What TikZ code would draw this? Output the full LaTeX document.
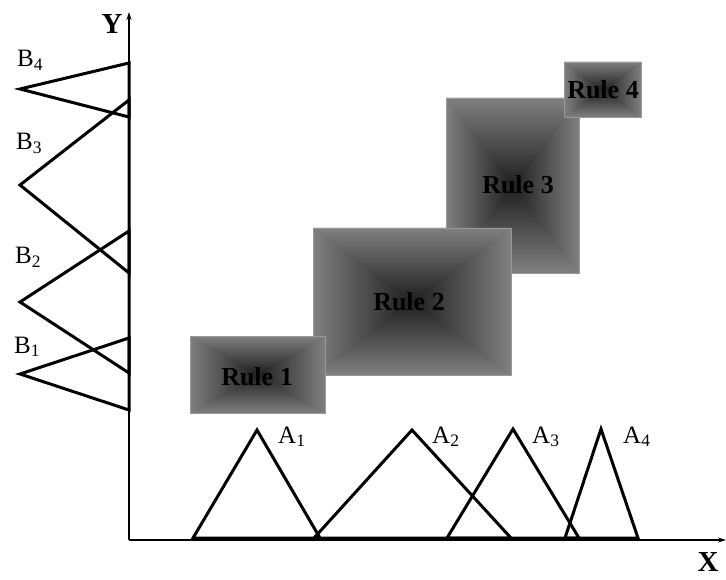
\documentclass[tikz,border=0pt]{standalone}
\usepackage{fontspec}
\setmainfont{Liberation Serif}
\usetikzlibrary{arrows.meta}
\colorlet{edgegray}{black!50}
\colorlet{coregray}{black!88}
\colorlet{midgray}{black!66}
\tikzset{
  mf/.style={line width=3pt, line join=miter},
  axis/.style={line width=1.1pt, -{Stealth[length=8pt,width=5pt]}},
  lab/.style={font=\fontsize{25}{28}\selectfont, anchor=base west, inner sep=0pt},
  axlab/.style={font=\fontsize{29}{32}\selectfont\bfseries, inner sep=0pt},
  rulelab/.style={font=\fontsize{26}{30}\selectfont\bfseries, anchor=base, inner sep=0pt},
  boxedge/.style={draw=black!40, line width=0.5pt},
}
\newcommand\rulequads[5]{%
  \shade[top color=edgegray, bottom color=coregray] (#1,#2) -- (#3,#2) -- (#5-c) -- cycle;
  \shade[top color=coregray, bottom color=edgegray] (#1,#4) -- (#3,#4) -- (#5-c) -- cycle;
  \shade[left color=edgegray, right color=coregray] (#1,#2) -- (#1,#4) -- (#5-c) -- cycle;
  \shade[left color=coregray, right color=edgegray] (#3,#2) -- (#3,#4) -- (#5-c) -- cycle;
}
\newcommand\rulebox[5]{%
  \coordinate (#5-c) at ({(#1+#3)/2},{(#2+#4)/2});
  \fill[midgray] (#1,#2) rectangle (#3,#4);
  \rulequads{#1}{#2}{#3}{#4}{#5}%
  \rulequads{#1}{#2}{#3}{#4}{#5}%
  \draw[boxedge] (#1,#2) rectangle (#3,#4);
}
\begin{document}
\begin{tikzpicture}[x=1pt,y=-1pt]
\useasboundingbox (0,0) rectangle (726,580);
% axes
\coordinate (O) at (129,540);
\coordinate (ytip) at (129,12);
\coordinate (xtip) at (726,540);
\draw[axis] (O) -- (ytip);
\draw[axis] (O) -- (xtip);
\node[axlab] (ylab) at (112,24) {Y};
\node[axlab] (xlab) at (708,562) {X};
% rule boxes
\rulebox{446}{98}{579}{273}{r3}
\rulebox{564}{62}{641}{117}{r4}
\rulebox{313}{228}{511}{375}{r2}
\rulebox{190}{336}{325}{413}{r1}
\node[rulelab] (rule1) at (257,385) {Rule 1};
\node[rulelab] (rule2) at (409,310) {Rule 2};
\node[rulelab] (rule3) at (518,194) {Rule 3};
\node[rulelab] (rule4) at (603,99) {Rule 4};
% B membership functions
\coordinate (b4a) at (20,89);  \coordinate (b4t) at (129,63);  \coordinate (b4b) at (129,117);
\coordinate (b3a) at (20,185); \coordinate (b3t) at (129,100); \coordinate (b3b) at (129,273);
\coordinate (b2a) at (20,302); \coordinate (b2t) at (129,231); \coordinate (b2b) at (129,373);
\coordinate (b1a) at (20,374); \coordinate (b1t) at (129,338); \coordinate (b1b) at (129,410);
\draw[mf] (b4a) -- (b4t) -- (b4b) -- cycle;
\draw[mf] (b3a) -- (b3t) -- (b3b) -- cycle;
\draw[mf] (b2a) -- (b2t) -- (b2b) -- cycle;
\draw[mf] (b1a) -- (b1t) -- (b1b) -- cycle;
\node[lab] (B4) at (17,67) {B\textsubscript{4}};
\node[lab] (B3) at (16,150) {B\textsubscript{3}};
\node[lab] (B2) at (15,264) {B\textsubscript{2}};
\node[lab] (B1) at (14,353) {B\textsubscript{1}};
% A membership functions
\coordinate (a1l) at (193,538); \coordinate (a1p) at (257,430); \coordinate (a1r) at (320,538);
\coordinate (a2l) at (314,538); \coordinate (a2p) at (412,430); \coordinate (a2r) at (511,538);
\coordinate (a3l) at (447,538); \coordinate (a3p) at (513,429); \coordinate (a3r) at (579,538);
\coordinate (a4l) at (565,538); \coordinate (a4p) at (601,429); \coordinate (a4r) at (638,538);
\draw[mf] (a1l) -- (a1p) -- (a1r) -- cycle;
\draw[mf] (a2l) -- (a2p) -- (a2r) -- cycle;
\draw[mf] (a3l) -- (a3p) -- (a3r) -- cycle;
\draw[mf] (a4l) -- (a4p) -- (a4r) -- cycle;
\node[lab] (A1) at (278,443) {A\textsubscript{1}};
\node[lab] (A2) at (432,443) {A\textsubscript{2}};
\node[lab] (A3) at (532,443) {A\textsubscript{3}};
\node[lab] (A4) at (623,443) {A\textsubscript{4}};
\end{tikzpicture}
\end{document}
